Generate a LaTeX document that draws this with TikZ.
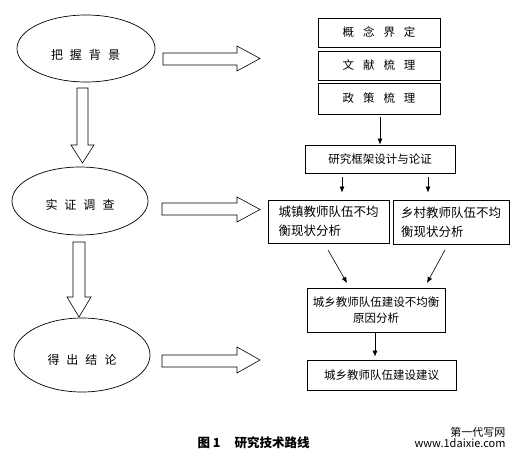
\documentclass[tikz,border=0pt]{standalone}
\usepackage{fontspec}
\setmainfont{Noto Sans CJK SC}
\usetikzlibrary{arrows.meta,shapes.geometric}
\newcommand{\egap}{\hspace{7pt}}
\newcommand{\bgap}{\hspace{9pt}}
\tikzset{
  oval/.style={draw, ellipse, line width=0.7pt, inner sep=0pt},
  stepbox/.style={draw, line width=0.8pt, inner sep=0pt, font=\fontsize{11.5}{14}\selectfont},
  twobox/.style={stepbox, align=left, font=\fontsize{12.5}{19}\selectfont},
  flow/.style={line width=0.6pt, -{Latex[length=6pt,width=5pt]}},
  blockarrow/.style={draw, line width=0.6pt, fill=white},
  ovaltext/.style={font=\fontsize{12}{14}\selectfont}
}
\begin{document}
\begin{tikzpicture}[x=1pt,y=-1pt]
\useasboundingbox (0,0) rectangle (521,460);
% ellipses
\node[oval, minimum width=138, minimum height=67] (e1) at (86,48.5) {};
\node[ovaltext] (t1) at (85.5,55) {把\egap 握\egap 背\egap 景};
\node[oval, minimum width=136, minimum height=68] (e2) at (80,201) {};
\node[ovaltext] (t2) at (80,205) {实\egap 证\egap 调\egap 查};
\node[oval, minimum width=136, minimum height=74] (e3) at (82,355) {};
\node[ovaltext] (t3) at (82,360) {得\egap 出\egap 结\egap 论};
% down block arrows
\draw[blockarrow] (77,88) -- (88,88) -- (88,145) -- (94,145) -- (82.5,163) -- (71,145) -- (77,145) -- cycle;
\draw[blockarrow] (73,242) -- (85,242) -- (85,297) -- (91,297) -- (79,317) -- (67,297) -- (73,297) -- cycle;
% right block arrows
\draw[blockarrow] (163,53) -- (237,53) -- (237,46) -- (260,58.5) -- (237,71) -- (237,65) -- (163,65) -- cycle;
\draw[blockarrow] (162,203) -- (237,203) -- (237,197) -- (260,209.5) -- (237,222) -- (237,215) -- (162,215) -- cycle;
\draw[blockarrow] (162,355) -- (237,355) -- (237,347) -- (260,360) -- (237,373) -- (237,367) -- (162,367) -- cycle;
% boxes
\node[stepbox, minimum width=122, minimum height=29] (b1) at (379,32.5) {概\bgap 念\bgap 界\bgap 定};
\node[stepbox, minimum width=122, minimum height=29] (b2) at (379,65.5) {文\bgap 献\bgap 梳\bgap 理};
\node[stepbox, minimum width=122, minimum height=31] (b3) at (379,98.5) {政\bgap 策\bgap 梳\bgap 理};
\node[stepbox, minimum width=150, minimum height=28] (b4) at (380,159) {研究框架设计与论证};
\node[twobox, minimum width=121, minimum height=43] (b5) at (328.5,221.5) {城镇教师队伍不均\\衡现状分析};
\node[twobox, minimum width=116, minimum height=44] (b6) at (451,222) {乡村教师队伍不均\\衡现状分析};
\node[stepbox, align=center, minimum width=138, minimum height=44, font=\fontsize{11.5}{16.5}\selectfont] (b7) at (376,310) {城乡教师队伍建设不均衡\\原因分析};
\node[stepbox, minimum width=149, minimum height=30] (b8) at (381.5,375) {城乡教师队伍建设建议};
% connectors
\coordinate (c1) at (342,0);
\coordinate (c2) at (428,0);
\coordinate (d1) at (328,250);
\coordinate (d2) at (347,283);
\coordinate (d3) at (445,250);
\coordinate (d4) at (427,283);
\draw[flow, shorten <=3pt] (b3.south -| 380,0) -- (b4.north -| 380,0);
\draw[flow, shorten <=4pt, shorten >=7pt] (b4.south -| c1) -- (b5.north -| c1);
\draw[flow, shorten <=4pt, shorten >=7pt] (b4.south -| c2) -- (b6.north -| c2);
\draw[flow] (d1) -- (d2);
\draw[flow] (d3) -- (d4);
\draw[flow, shorten <=1pt, shorten >=3pt] (b7.south -| 375,0) -- (b8.north -| 375,0);
% caption
\node[anchor=west, font=\fontsize{12.5}{14}\selectfont\bfseries] (cap) at (194,443) {图 1\hspace{14pt}研究技术路线};
\node[anchor=east, align=right, font=\fontsize{11}{11.5}\selectfont] (wm) at (509,437.5) {第一代写网\\www.1daixie.com};
\end{tikzpicture}
\end{document}
